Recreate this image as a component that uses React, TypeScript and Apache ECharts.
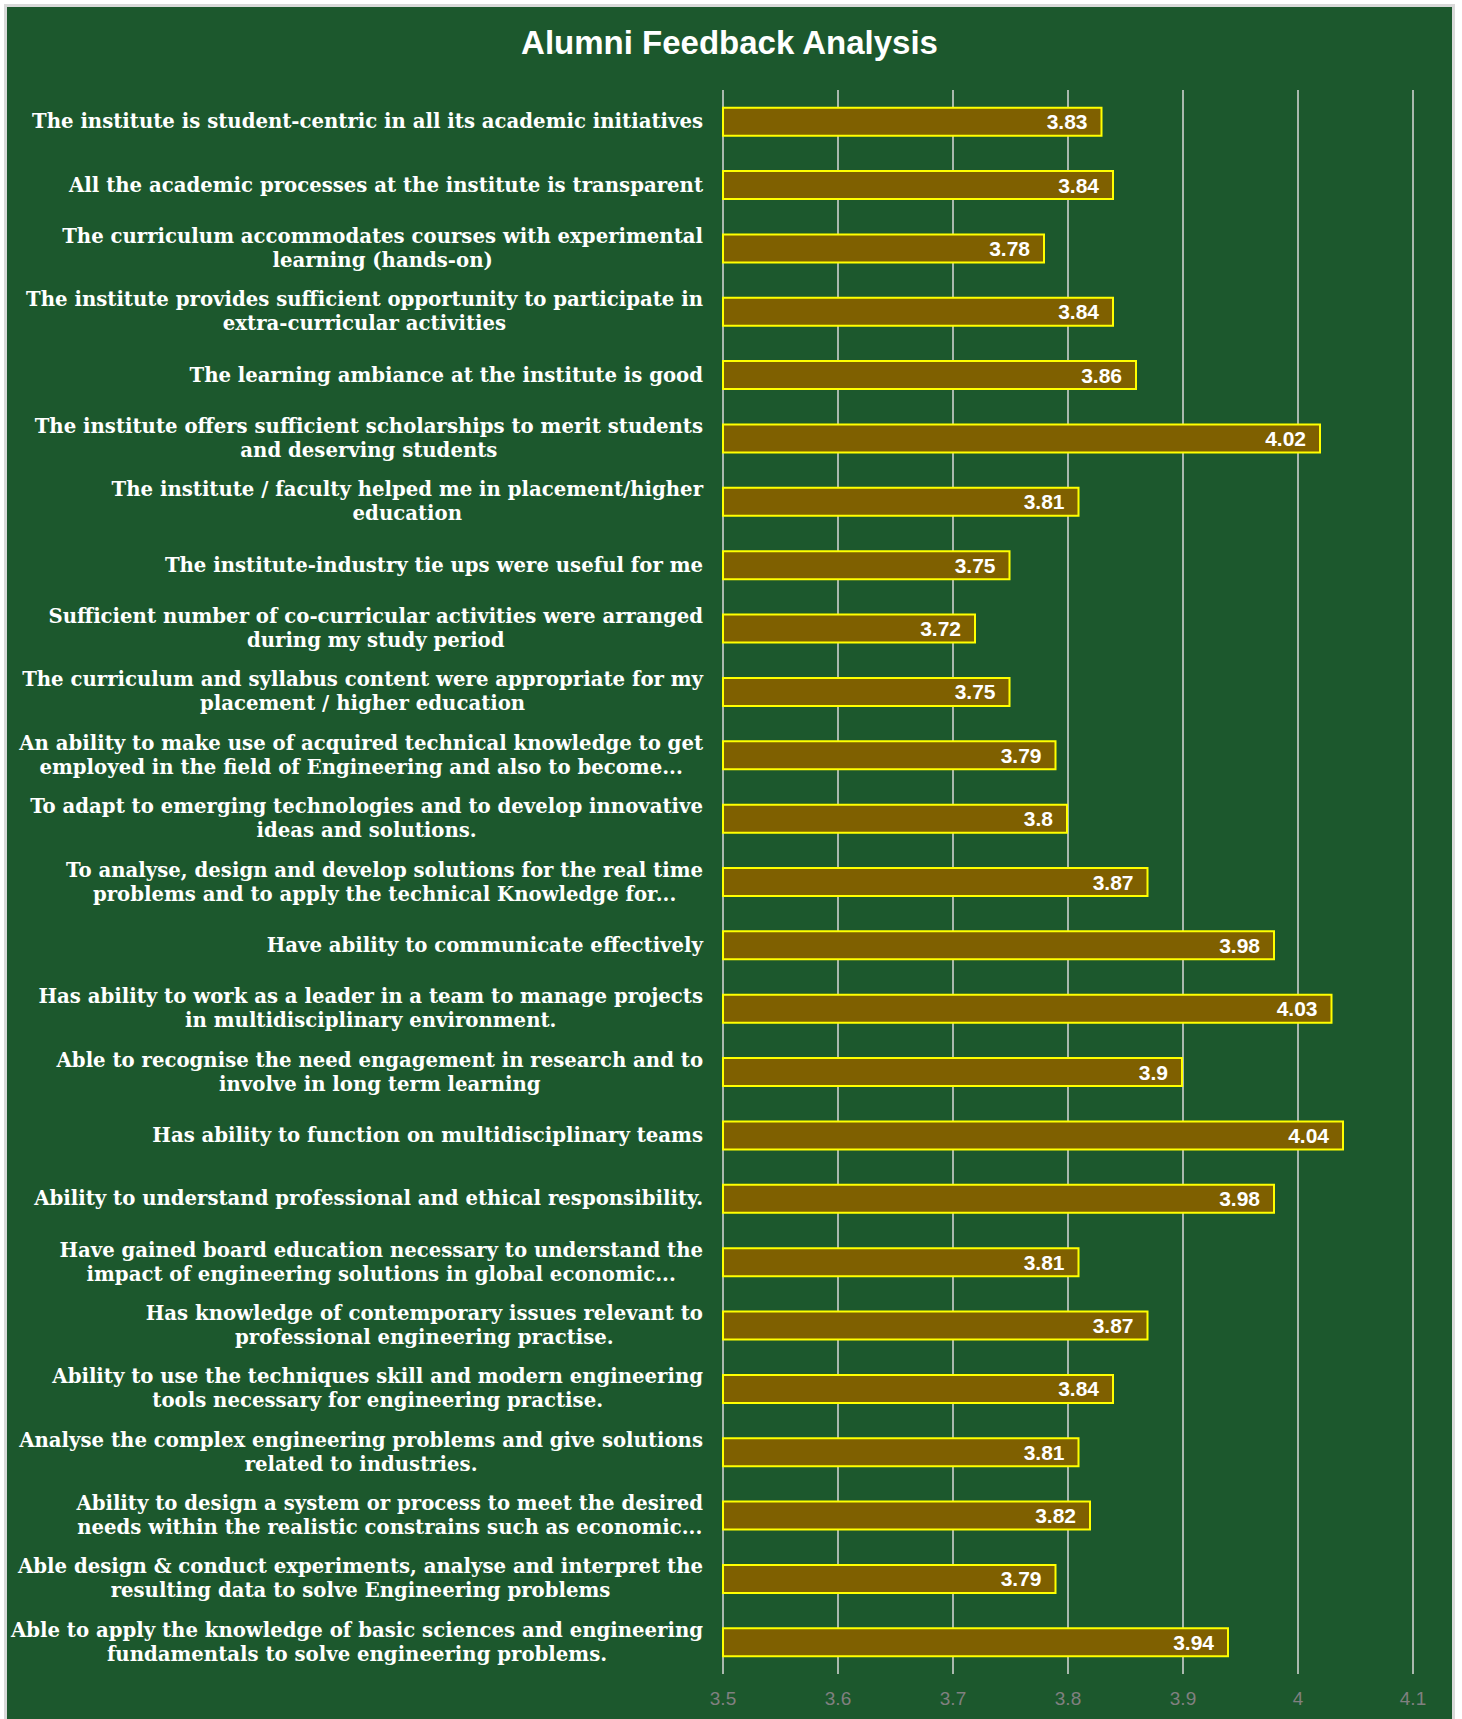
import React, { useEffect, useRef } from "react";
import * as echarts from "echarts";

const TITLE = "Alumni Feedback Analysis";

const categories: string[] = [
  "The institute is student-centric in all its academic initiatives",
  "All the academic processes at the institute is transparent",
  "The curriculum accommodates courses with experimental\nlearning (hands-on)",
  "The institute provides sufficient opportunity to participate in\nextra-curricular activities",
  "The learning ambiance at the institute is good",
  "The institute offers sufficient scholarships to merit students\nand deserving students",
  "The institute / faculty helped me in placement/higher\neducation",
  "The institute-industry tie ups were useful for me",
  "Sufficient number of co-curricular activities were arranged\nduring my study period",
  "The curriculum and syllabus content were appropriate for my\nplacement / higher education",
  "An ability to make use of acquired technical knowledge to get\nemployed in the field of Engineering and also to become...",
  "To adapt to emerging technologies and to develop innovative\nideas and solutions.",
  "To analyse, design and develop solutions for the real time\nproblems and to apply the technical Knowledge for...",
  "Have ability to communicate effectively",
  "Has ability to work as a leader in a team to manage projects\nin multidisciplinary environment.",
  "Able to recognise the need engagement in research and to\ninvolve in long term learning",
  "Has ability to function on multidisciplinary teams",
  "Ability to understand professional and ethical responsibility.",
  "Have gained board education necessary to understand the\nimpact of engineering solutions in global economic...",
  "Has knowledge of contemporary issues relevant to\nprofessional engineering practise.",
  "Ability to use the techniques skill and modern engineering\ntools necessary for engineering practise.",
  "Analyse the complex engineering problems and give solutions\nrelated to industries.",
  "Ability to design a system or process to meet the desired\nneeds within the realistic constrains such as economic...",
  "Able design & conduct experiments, analyse and interpret the\nresulting data to solve Engineering problems",
  "Able to apply the knowledge of basic sciences and engineering\nfundamentals to solve engineering problems.",
];

const scores: number[] = [
  3.83, 3.84, 3.78, 3.84, 3.86, 4.02, 3.81, 3.75, 3.72, 3.75, 3.79, 3.8, 3.87,
  3.98, 4.03, 3.9, 4.04, 3.98, 3.81, 3.87, 3.84, 3.81, 3.82, 3.79, 3.94,
];

const axisMin = 3.5;
const axisMax = 4.1;
const axisStep = 0.1;

const GREEN = "#1C582D";

export default function App() {
  const ref = useRef<HTMLDivElement>(null);

  useEffect(() => {
    if (!ref.current) return;
    const chart = echarts.init(ref.current, undefined, { renderer: "svg" });
    const labelFont = {
      fontFamily: "DejaVu Serif",
      fontWeight: "bold" as const,
      fontSize: 19.7,
      color: "#FFFFFF",
      lineHeight: 24,
    };
    chart.setOption({
      animation: false,
      backgroundColor: GREEN,
      title: {
        text: TITLE,
        left: "center",
        top: 18,
        padding: 0,
        textStyle: {
          color: "#FFFFFF",
          fontFamily: "Liberation Sans",
          fontWeight: "bold",
          fontSize: 33,
          lineHeight: 34,
        },
      },
      grid: { left: 716, right: 39, top: 83, bottom: 45 },
      xAxis: {
        type: "value",
        min: axisMin,
        max: axisMax,
        interval: axisStep,
        axisLine: { show: false },
        axisTick: { show: false },
        splitLine: { show: true, lineStyle: { color: "#D9D9D9", width: 1.5 } },
        axisLabel: {
          color: "#808080",
          fontFamily: "Liberation Sans",
          fontSize: 19,
          margin: 15,
        },
      },
      yAxis: {
        type: "category",
        data: categories,
        inverse: true,
        axisLine: { show: false },
        axisTick: { show: false },
        axisLabel: {
          margin: 20,
          ...labelFont,
          formatter: (v: string) =>
            v
              .split("\n")
              .map((l) => `{c|${l}}`)
              .join("\n"),
          rich: { c: { ...labelFont, align: "center" } },
        },
      },
      series: [
        {
          type: "bar",
          data: scores,
          barWidth: 30,
          itemStyle: { color: "#7F6000", borderColor: "#FFFF00", borderWidth: 2 },
          label: {
            show: true,
            position: "insideRight",
            distance: 15,
            color: "#FFFFFF",
            fontFamily: "Liberation Sans",
            fontWeight: "bold",
            fontSize: 21,
          },
        },
      ],
    });
    return () => chart.dispose();
  }, []);

  return (
    <div
      style={{
        position: "absolute",
        left: 0,
        top: 0,
        width: 1462,
        height: 1719,
        background: "#FFFFFF",
        overflow: "hidden",
      }}
    >
      <div
        style={{
          position: "absolute",
          left: 4,
          top: 4,
          width: 1445,
          height: 1715,
          border: "3px solid #D9D9D9",
          background: GREEN,
        }}
      >
        <div ref={ref} style={{ width: 1445, height: 1712 }} />
      </div>
    </div>
  );
}
